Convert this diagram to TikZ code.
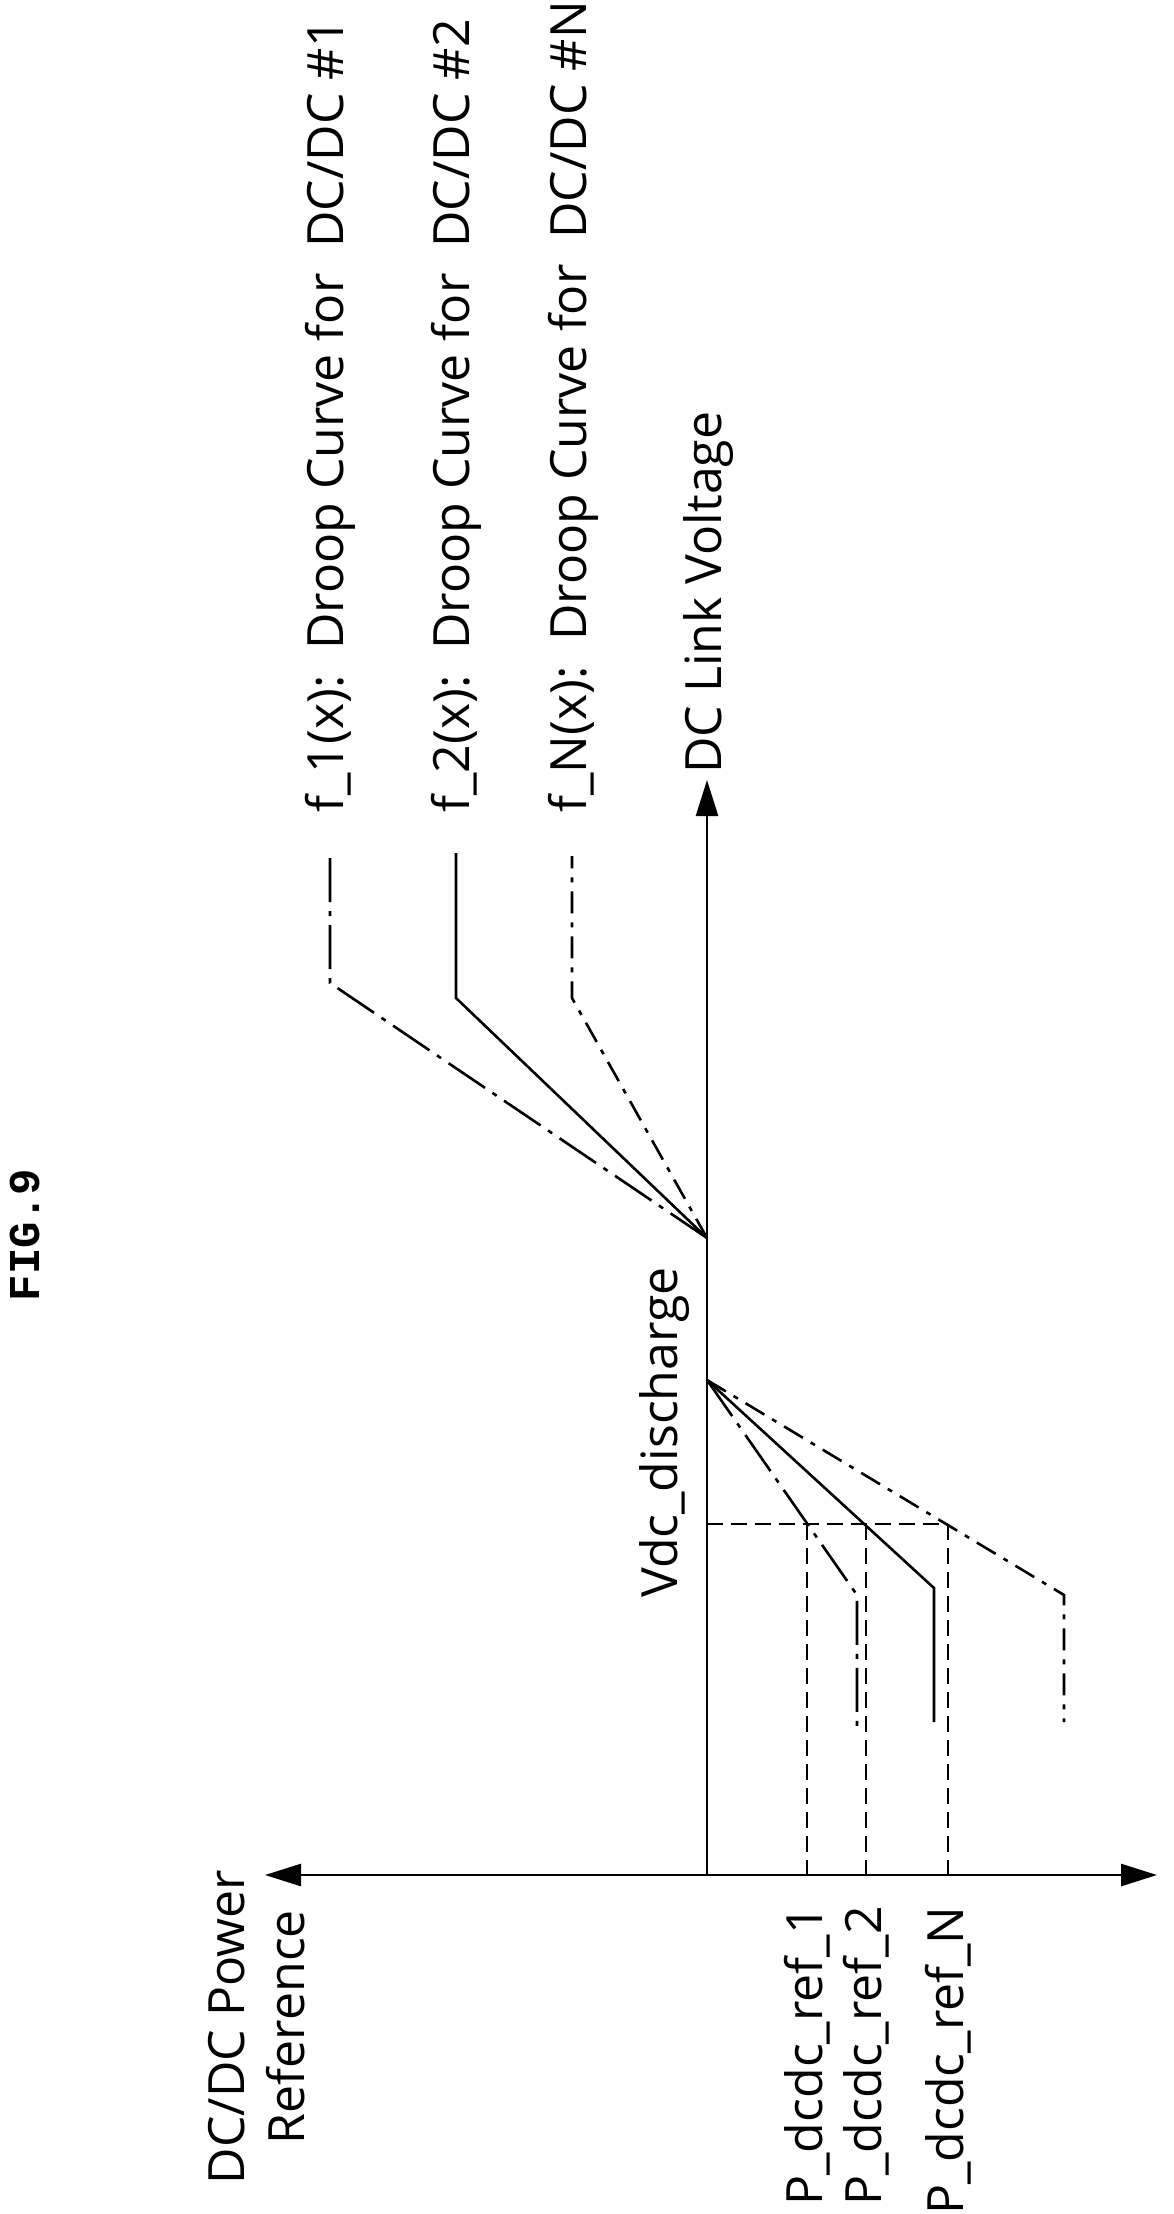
\documentclass[tikz,border=0pt]{standalone}
\usepackage{fontspec}
\setmainfont{Open Sans}
\newfontfamily\figfont{Liberation Mono}
\usetikzlibrary{arrows.meta}
\begin{document}
\begin{tikzpicture}[x=1pt,y=-1pt,line width=2.6pt,
  lbl/.style={font=\fontsize{50}{60}\selectfont,inner sep=0pt,rotate=90},
  tip/.style={-{Triangle[length=36pt,width=22pt]}},
  ldash/.style={dash pattern=on 44pt off 9pt on 5pt off 9pt},
  sdash/.style={dash pattern=on 22pt off 9pt on 5pt off 9pt},
  dsh/.style={dash pattern=on 16pt off 8pt, line width=2pt}]
\useasboundingbox (0,0) rectangle (1173,2214);
\coordinate (O) at (707,1875);
\coordinate (A) at (707,1238);
\coordinate (B) at (707,1380);
\coordinate (vt) at (707,780);
\coordinate (hl) at (265,1875);
\coordinate (hr) at (1157,1875);
\draw[tip] (O) -- (vt);
\draw[tip] (O) -- (hl);
\draw[tip] (O) -- (hr);
% upper curves
\coordinate (k1) at (330,983); \coordinate (t1) at (330,856);
\coordinate (k2) at (456,998); \coordinate (t2) at (456,853);
\coordinate (kN) at (572,998); \coordinate (tN) at (572,856);
\draw[ldash] (A) -- (k1) -- (t1);
\draw (A) -- (k2) -- (t2);
\draw[sdash] (A) -- (kN) -- (tN);
% lower curves
\coordinate (l1) at (857,1595); \coordinate (b1) at (857,1726);
\coordinate (l2) at (934,1588); \coordinate (b2) at (934,1722);
\coordinate (lN) at (1064,1595); \coordinate (bN) at (1064,1722);
\draw[ldash] (B) -- (l1) -- (b1);
\draw (B) -- (l2) -- (b2);
\draw[sdash] (B) -- (lN) -- (bN);
% dashed reference lines
\coordinate (h0) at (707,1524);
\coordinate (d1) at (807,1524); \coordinate (e1) at (807,1875);
\coordinate (d2) at (866,1524); \coordinate (e2) at (866,1875);
\coordinate (d3) at (948,1524); \coordinate (e3) at (948,1875);
\draw[dsh] (h0) -- (d3);
\draw[dsh] (d1) -- (e1);
\draw[dsh] (d2) -- (e2);
\draw[dsh] (d3) -- (e3);
% labels
\node[lbl,anchor=west] (f1) at (330,814) {f\_1(x):\ \ Droop Curve for\ \ DC/DC \#1};
\node[lbl,anchor=west] (f2) at (456,814) {f\_2(x):\ \ Droop Curve for\ \ DC/DC \#2};
\node[lbl,anchor=west] (fN) at (573,814) {f\_N(x):\ \ Droop Curve for\ \ DC/DC \#N};
\node[lbl,anchor=west] (dcl) at (709,775) {DC Link Voltage};
\node[lbl,anchor=west] (vdc) at (665,1599) {Vdc\_discharge};
\node[lbl,anchor=east] (p1) at (807,1905) {P\_dcdc\_ref\_1};
\node[lbl,anchor=east] (p2) at (866,1905) {P\_dcdc\_ref\_2};
\node[lbl,anchor=east] (pN) at (948,1905) {P\_dcdc\_ref\_N};
\node[lbl,align=center] (yl) at (257,2027) {DC/DC Power\\Reference};
\node[rotate=90,inner sep=0pt,font=\figfont\bfseries\fontsize{44}{50}\selectfont] (fig) at (25,1235) {FIG.9};
\end{tikzpicture}
\end{document}
